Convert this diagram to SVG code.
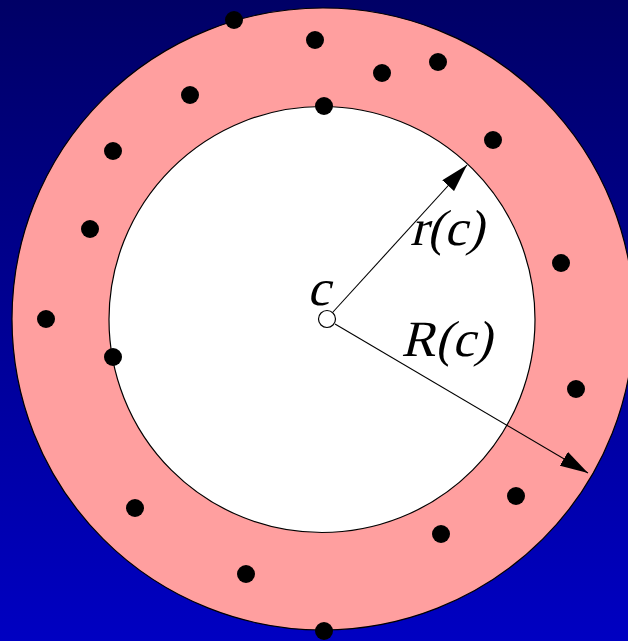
<svg xmlns="http://www.w3.org/2000/svg" width="628" height="641" viewBox="0 0 628 641">
<defs>
<linearGradient id="bg" x1="0" y1="0" x2="0" y2="1">
<stop offset="0" stop-color="#000066"/>
<stop offset="1" stop-color="#0000c2"/>
</linearGradient>
<marker id="ah" viewBox="0 0 28 16" refX="28" refY="8" markerWidth="28" markerHeight="16" markerUnits="userSpaceOnUse" orient="auto">
<path d="M0,0 L28,8 L0,16 Z" fill="#000"/>
</marker>
<style>
.dot{fill:#000}
.arr{stroke:#000;stroke-width:1.1;fill:none;marker-end:url(#ah)}
</style>
</defs>
<rect x="0" y="0" width="628" height="641" fill="url(#bg)"/>
<g id="outer-annulus">
<circle cx="323" cy="319" r="311" fill="#ff9f9f" stroke="#000" stroke-width="1.2"/>
</g>
<g id="inner-disk">
<circle cx="322" cy="319.5" r="213" fill="#fff" stroke="#000" stroke-width="1.2"/>
</g>
<g id="points">
<circle class="dot" cx="234" cy="20" r="9"/>
<circle class="dot" cx="315" cy="40" r="9"/>
<circle class="dot" cx="382" cy="73" r="9"/>
<circle class="dot" cx="438" cy="62" r="9"/>
<circle class="dot" cx="190" cy="95" r="9"/>
<circle class="dot" cx="324" cy="106" r="9"/>
<circle class="dot" cx="113" cy="151" r="9"/>
<circle class="dot" cx="493" cy="140" r="9"/>
<circle class="dot" cx="90" cy="229" r="9"/>
<circle class="dot" cx="561" cy="263" r="9"/>
<circle class="dot" cx="46" cy="319" r="9"/>
<circle class="dot" cx="113" cy="357" r="9"/>
<circle class="dot" cx="576" cy="389" r="9"/>
<circle class="dot" cx="516" cy="496" r="9"/>
<circle class="dot" cx="135" cy="508" r="9"/>
<circle class="dot" cx="441" cy="534" r="9"/>
<circle class="dot" cx="246" cy="574" r="9"/>
<circle class="dot" cx="324" cy="631" r="9"/>
</g>
<g id="connectors">
<line class="arr" x1="333" y1="312" x2="467" y2="165"/>
<line class="arr" x1="335" y1="324" x2="588" y2="473"/>
</g>
<g id="center">
<circle cx="327" cy="319" r="8.5" fill="#fff" stroke="#000" stroke-width="1.2"/>
</g>
<g id="labels" font-family="'Liberation Serif', serif" font-style="normal" font-size="51" fill="#000">
<text transform="translate(307,305) skewX(-14)">c</text>
<text transform="translate(410,245) skewX(-14)">r(c)</text>
<text transform="translate(401,356) skewX(-14)">R(c)</text>
</g>
</svg>
